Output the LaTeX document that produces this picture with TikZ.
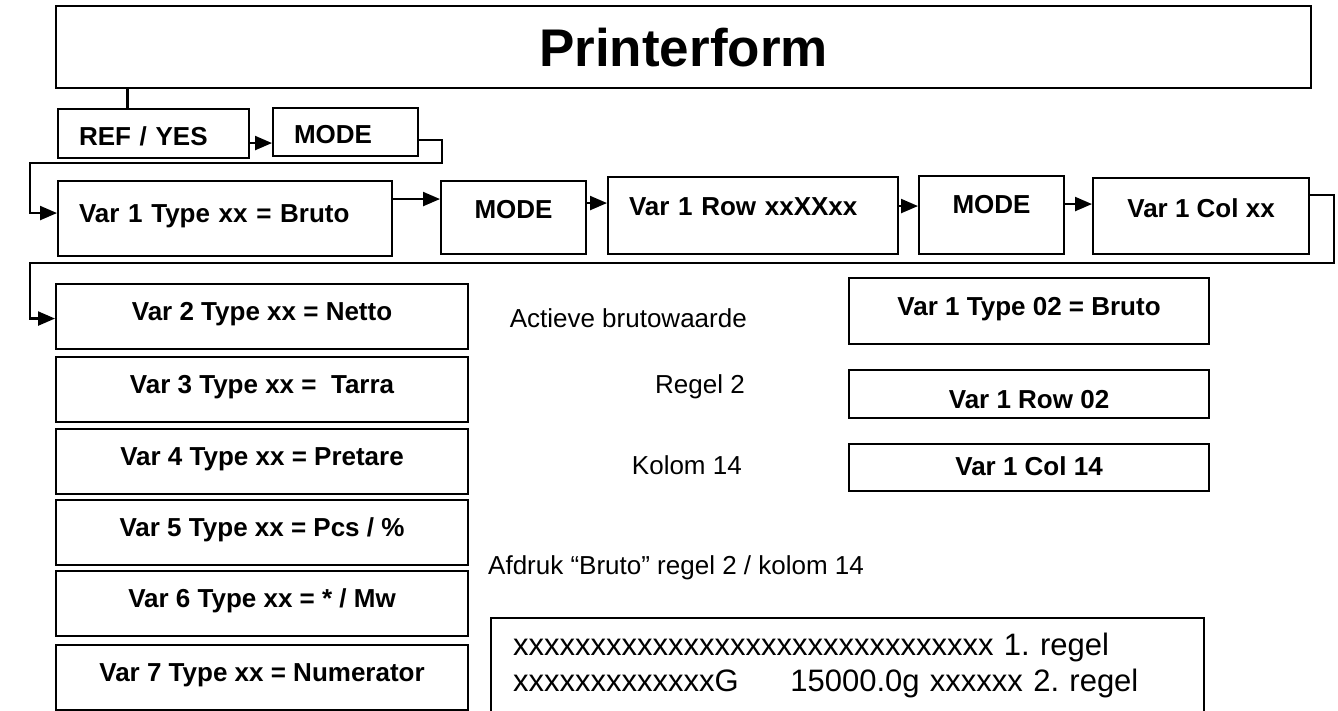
\documentclass[tikz,border=0pt]{standalone}
\usepackage{fontspec}
\setmainfont{Liberation Sans}
\usetikzlibrary{arrows.meta}
\frenchspacing

\begin{document}
\begin{tikzpicture}[x=1pt,y=-1pt,
    box/.style={draw,line width=2.1pt,anchor=north west,inner ysep=2pt,
        font=\fontsize{26}{31}\selectfont\bfseries,text height=19pt,text depth=5.5pt},
    lbox/.style={box,inner xsep=21pt,align=left},
    arr/.style={line width=2.2pt,-{Triangle[length=17pt,width=14pt]}},
    txt/.style={font=\fontsize{26}{31}\selectfont,inner sep=0pt}]

    \useasboundingbox (0,0) rectangle (1338,711);
    \clip (0,0) rectangle (1338,711);

    \node [box,minimum width=1255pt,minimum height=82pt,
           font=\fontsize{53}{63}\selectfont\bfseries,text height=38pt,text depth=0pt]
          (title) at (55,5) {Printerform};

    % first row
    \node [lbox,minimum width=191pt,minimum height=49pt,text width=149pt,text height=29pt] (ref) at (57,108) {REF / YES};
    \node [lbox,minimum width=145pt,minimum height=48pt,text width=103pt,text height=28pt] (mode0) at (272,107) {MODE};

    % second row
    \node [lbox,minimum width=334pt,minimum height=75pt,text width=292pt,text depth=11.4pt] (var1) at (57,180) {Var 1 Type xx = Bruto};
    \node [box,minimum width=145pt,minimum height=73pt,text depth=17.4pt] (mode1) at (440,180) {MODE};
    \node [lbox,minimum width=290pt,minimum height=77pt,text width=248pt,text depth=19.4pt] (row) at (607,176) {Var 1 Row xxXXxx};
    \node [box,minimum width=145pt,minimum height=78pt,text depth=22.4pt] (mode2) at (918,175) {MODE};
    \node [box,minimum width=216pt,minimum height=76pt,text depth=16.4pt] (col) at (1092,177) {Var 1 Col xx};

    % variable list
    \foreach \n/\yt/\kind in {2/283/Netto, 3/356/{~Tarra}, 4/428/Pretare,
                               5/499/{Pcs / \%}, 6/570/{* / Mw}, 7/644/Numerator}{%
        \node [box,minimum width=412pt,minimum height=65pt,text depth=12pt] (var\n) at (55,\yt) {Var \n{} Type xx = \kind};
    }

    % example on the right
    \node [txt,anchor=east] (active) at (747,318) {Actieve brutowaarde};
    \node [txt,anchor=east] (line)   at (745,387) {Regel 2};
    \node [txt,anchor=east] (column) at (742,465) {Kolom 14};
    \node [box,minimum width=360pt,minimum height=66pt,text depth=10.4pt] (typeex) at (848,277) {Var 1 Type 02 = Bruto};
    \node [box,minimum width=360pt,minimum height=48pt,text height=34pt] (rowex) at (848,369) {Var 1 Row 02};
    \node [box,minimum width=360pt,minimum height=47pt,text depth=3.4pt] (colex) at (848,443) {Var 1 Col 14};

    \node [txt,anchor=west] (print) at (488,568) {Afdruk “Bruto” regel 2 / kolom 14};
    \node [draw,line width=2.1pt,anchor=north west,align=left,text width=669pt,
           inner xsep=22pt,inner ysep=15pt,text depth=80pt,font=\fontsize{31}{36}\selectfont]
          (ticket) at (490,617)
          {xxxxxxxxxxxxxxxxxxxxxxxxxxxxxxx 1. regel\\
           xxxxxxxxxxxxxG~~~~~15000.0g xxxxxx 2. regel};

    % connectors
    \draw [line width=3pt] ([xshift=70pt]ref.north west) -- ([xshift=70pt]ref.north west |- title.south);
    \draw [arr] ([yshift=-9.5pt]ref.east) -- ([yshift=-9.5pt]ref.east -| mode0.west);
    \draw [arr] ([yshift=-8pt]mode0.east) -- ++(23,0) |- (30,163) |- ([yshift=5.5pt]var1.west);
    \draw [arr] ([yshift=19.5pt]var1.east) -- ([yshift=19.5pt]var1.east -| mode1.west);
    \draw [arr] ([yshift=14.5pt]mode1.east) -- ([yshift=14.5pt]mode1.east -| row.west);
    \draw [arr] ([yshift=9.5pt]row.east) -- ([yshift=9.5pt]row.east -| mode2.west);
    \draw [arr] ([yshift=11pt]mode2.east) -- ([yshift=11pt]mode2.east -| col.west);
    \draw [arr] ([yshift=21pt]col.east) -- ++(24,0) |- (30,263) |- ([yshift=-2pt]var2.west);
\end{tikzpicture}
\end{document}
